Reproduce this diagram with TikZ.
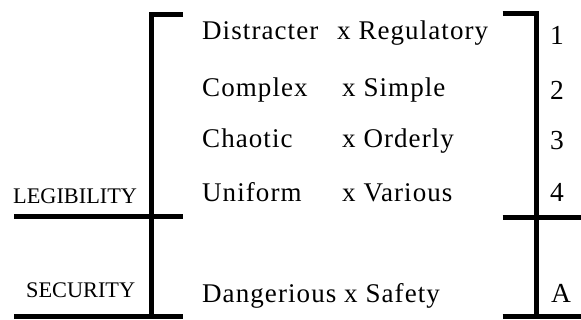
\documentclass[tikz,border=0pt]{standalone}
\usepackage{fontspec}
\setmainfont{Liberation Serif}[LetterSpace=4]
\newfontfamily\tagfont{Liberation Serif}
\tikzset{>=stealth}

\begin{document}
\begin{tikzpicture}[x=1pt,y=-1pt,
    bar/.style={line width=5pt},
    word/.style={anchor=base west,inner sep=0pt,font=\fontsize{27}{30}\selectfont},
    num/.style={anchor=base west,inner sep=0pt,font=\fontsize{27.5}{30}\selectfont},
    tag/.style={anchor=base west,inner sep=0pt,font=\tagfont\fontsize{22.3}{25}\selectfont}]
  \useasboundingbox (0,0) rectangle (581,320);
  % left bracket
  \coordinate (lt) at (151,14.5);
  \coordinate (lm) at (151,217);
  \coordinate (lb) at (151,317);
  \draw[bar] ([xshift=32pt]lt) -- (lt) -- (lb);
  \draw[bar] (14,217) -- ([xshift=32pt]lm);
  \draw[bar] (14,317) -- ([xshift=32pt]lb);
  % right bracket
  \coordinate (rt) at (536.5,13.5);
  \coordinate (rm) at (536.5,218);
  \coordinate (rb) at (536.5,316.5);
  \draw[bar] ([xshift=-34pt]rt) -- (rt) -- (rb);
  \draw[bar] ([xshift=-34pt]rm) -- (581,218);
  \draw[bar] ([xshift=-34pt]rb) -- (581,316.5);
  % labels on the left
  \node[tag] (legib) at (13,204) {LEGIBILITY};
  \node[tag] (secur) at (26,298) {SECURITY};
  % pairs
  \node[word] (distr) at (202,40) {Distracter};
  \node[word] (regul) at (337,40) {x Regulatory};
  \node[word] (compl) at (202,97) {Complex};
  \node[word] (simpl) at (342,97) {x Simple};
  \node[word] (chaot) at (202,148) {Chaotic};
  \node[word] (order) at (342,148) {x Orderly};
  \node[word] (unif) at (202,202) {Uniform};
  \node[word] (vari) at (342,202) {x Various};
  \node[word] (dang) at (202,303) {Dangerious x Safety};
  % numbers
  \node[num] (n1) at (550,45) {1};
  \node[num] (n2) at (550,100) {2};
  \node[num] (n3) at (550,150) {3};
  \node[num] (n4) at (550,202) {4};
  \node[num] (na) at (551,303) {A};
\end{tikzpicture}
\end{document}
